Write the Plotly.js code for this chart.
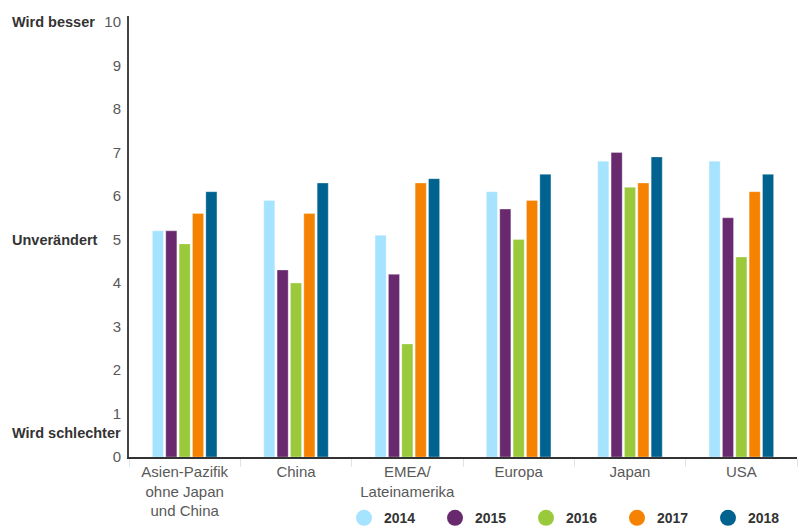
<!DOCTYPE html>
<html>
<head>
<meta charset="utf-8">
<script src="https://cdn.plot.ly/plotly-3.0.1.min.js"></script>
<style>html,body{margin:0;padding:0;background:#fff;}#chart{width:799px;height:531px;}</style>
</head>
<body>
<div id="chart"></div>
<script>
const categories = ["Asien-Pazifik<br>ohne Japan<br>und China", "China", "EMEA/<br>Lateinamerika", "Europa", "Japan", "USA"];
const years = ["2014", "2015", "2016", "2017", "2018"];
const v2014 = [5.2, 5.9, 5.1, 6.1, 6.8, 6.8];
const v2015 = [5.2, 4.3, 4.2, 5.7, 7.0, 5.5];
const v2016 = [4.9, 4.0, 2.6, 5.0, 6.2, 4.6];
const v2017 = [5.6, 5.6, 6.3, 5.9, 6.3, 6.1];
const v2018 = [6.1, 6.3, 6.4, 6.5, 6.9, 6.5];
const colors = ["#a6e3ff", "#68296e", "#9aca3c", "#f58200", "#00628f"];
const series = [v2014, v2015, v2016, v2017, v2018];

const traces = [];
series.forEach((vals, i) => {
  traces.push({
    type: "bar", x: categories, y: vals, name: years[i],
    marker: {color: colors[i], line: {color: "rgba(255,255,255,0.6)", width: 0.5}},
    showlegend: false, hoverinfo: "y"
  });
});
series.forEach((vals, i) => {
  traces.push({
    type: "scatter", mode: "markers", x: [null], y: [null], name: years[i],
    marker: {color: colors[i], size: 16, symbol: "circle"}, showlegend: true
  });
});

const font = "Liberation Sans, Arial, sans-serif";
const layout = {
  width: 799, height: 531,
  margin: {l: 129, r: 2, t: 16, b: 74},
  paper_bgcolor: "#fff", plot_bgcolor: "#fff",
  barmode: "group", bargap: 0.4, bargroupgap: 0.17,
  font: {family: font, size: 15, color: "#595959"},
  xaxis: {
    showline: true, linecolor: "#333", linewidth: 2,
    ticks: "outside", tickson: "boundaries", ticklen: 8, tickcolor: "#dfe3ea", tickwidth: 1,
    showgrid: false, tickfont: {size: 15, color: "#595959"}, fixedrange: true
  },
  yaxis: {
    range: [0, 10.14], tickvals: [0,1,2,3,4,5,6,7,8,9,10],
    showline: true, linecolor: "#444", linewidth: 2,
    showgrid: false, zeroline: false, ticks: "", ticklabelstandoff: 3,
    tickfont: {size: 15, color: "#595959"}, fixedrange: true
  },
  legend: {
    orientation: "h", xref: "paper", x: 0.33, xanchor: "left",
    yref: "container", y: 0.024, yanchor: "middle",
    font: {family: font, size: 14, color: "#333", weight: "bold"},
    entrywidth: 46, entrywidthmode: "pixels", itemwidth: 30
  },
  annotations: [
    {text: "Wird besser", xref: "paper", yref: "y", x: -0.178, y: 10, xanchor: "left", yanchor: "middle", showarrow: false, font: {family: font, size: 14.5, color: "#333", weight: "bold"}},
    {text: "Unverändert", xref: "paper", yref: "y", x: -0.178, y: 5, xanchor: "left", yanchor: "middle", showarrow: false, font: {family: font, size: 14.5, color: "#333", weight: "bold"}},
    {text: "Wird schlechter", xref: "paper", yref: "y", x: -0.178, y: 0.55, xanchor: "left", yanchor: "middle", showarrow: false, font: {family: font, size: 14.5, color: "#333", weight: "bold"}}
  ]
};
Plotly.newPlot("chart", traces, layout, {displayModeBar: false, staticPlot: true});
</script>
</body>
</html>
